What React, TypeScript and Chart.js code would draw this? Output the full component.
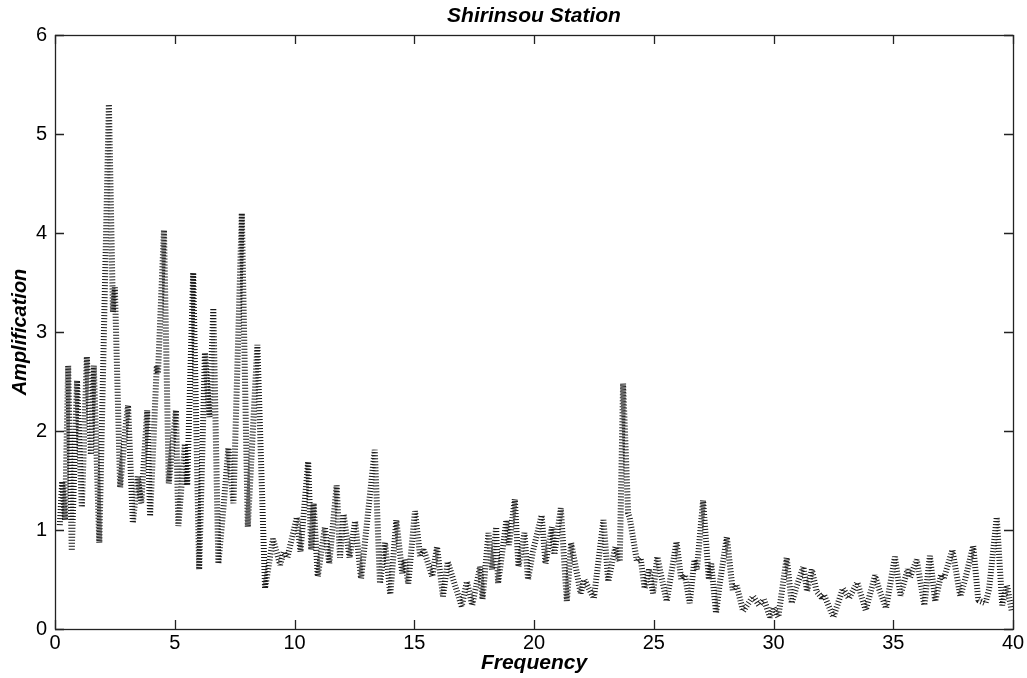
import React, { useEffect, useRef } from "react";
import { Chart, registerables } from "chart.js";

Chart.register(...registerables);

const chartTitle = "Shirinsou Station";
const xAxisLabel = "Frequency";
const yAxisLabel = "Amplification";

const frequency = [
  0.2, 0.3, 0.42, 0.55, 0.7, 0.92, 1.12, 1.33, 1.5, 1.62, 1.85, 2.25, 2.42, 2.5, 2.72, 2.95, 3.05, 3.25, 3.45, 3.6,
  3.85, 3.97, 4.25, 4.3, 4.55, 4.75, 5.05, 5.15, 5.42, 5.52, 5.77, 6.02, 6.26, 6.45, 6.61, 6.82, 7.05, 7.24, 7.45, 7.8,
  8.05, 8.45, 8.77, 9.1, 9.4, 9.55, 9.7, 10.1, 10.25, 10.57, 10.7, 10.8, 10.97, 11.27, 11.45, 11.76, 11.9, 12.05, 12.3, 12.53,
  12.78, 13.35, 13.57, 13.78, 14.0, 14.25, 14.5, 14.6, 14.75, 15.03, 15.25, 15.4, 15.75, 15.95, 16.2, 16.4, 16.6, 16.98, 17.2, 17.42,
  17.75, 17.85, 18.1, 18.25, 18.42, 18.5, 18.85, 18.95, 19.2, 19.35, 19.6, 19.75, 19.95, 20.32, 20.48, 20.75, 20.85, 21.12, 21.37, 21.55,
  21.95, 22.1, 22.5, 22.9, 23.1, 23.4, 23.58, 23.72, 23.93, 24.0, 24.3, 24.45, 24.62, 24.8, 24.97, 25.15, 25.3, 25.54, 25.95, 26.15,
  26.3, 26.5, 26.7, 26.8, 27.06, 27.3, 27.4, 27.6, 27.75, 28.05, 28.3, 28.45, 28.73, 29.15, 29.4, 29.6, 29.85, 30.0, 30.2, 30.55,
  30.76, 30.95, 31.25, 31.4, 31.6, 31.8, 32.0, 32.1, 32.5, 32.9, 33.15, 33.5, 33.85, 34.24, 34.4, 34.7, 35.07, 35.3, 35.6, 35.7,
  35.98, 36.3, 36.53, 36.75, 37.0, 37.1, 37.47, 37.8, 38.0, 38.34, 38.55, 38.85, 39.0, 39.32, 39.55, 39.75, 39.95,
];

const amplification = [
  1.05, 1.49, 1.1, 2.66, 0.79, 2.51, 1.23, 2.75, 1.76, 2.66, 0.87, 5.3, 3.2, 3.45, 1.43, 2.05, 2.26, 1.07, 1.54, 1.27,
  2.21, 1.14, 2.66, 2.58, 4.03, 1.47, 2.21, 1.04, 1.87, 1.45, 3.6, 0.6, 2.79, 2.14, 3.24, 0.66, 1.27, 1.83, 1.27, 4.2,
  1.03, 2.87, 0.41, 0.91, 0.65, 0.78, 0.72, 1.13, 0.78, 1.69, 0.8, 1.27, 0.53, 1.03, 0.66, 1.45, 0.72, 1.16, 0.72, 1.09,
  0.51, 1.81, 0.46, 0.87, 0.35, 1.1, 0.56, 0.7, 0.46, 1.19, 0.73, 0.8, 0.53, 0.83, 0.33, 0.68, 0.52, 0.23, 0.48, 0.24,
  0.63, 0.3, 0.97, 0.6, 1.03, 0.46, 1.1, 0.85, 1.31, 0.63, 0.97, 0.5, 0.78, 1.15, 0.66, 1.03, 0.75, 1.22, 0.28, 0.87,
  0.36, 0.5, 0.31, 1.1, 0.48, 0.83, 0.68, 2.48, 1.17, 1.12, 0.68, 0.72, 0.41, 0.6, 0.36, 0.73, 0.55, 0.28, 0.88, 0.5,
  0.55, 0.26, 0.7, 0.6, 1.3, 0.5, 0.66, 0.16, 0.45, 0.93, 0.39, 0.45, 0.18, 0.33, 0.24, 0.3, 0.12, 0.22, 0.12, 0.72,
  0.26, 0.42, 0.63, 0.38, 0.6, 0.38, 0.32, 0.35, 0.12, 0.41, 0.31, 0.47, 0.19, 0.54, 0.41, 0.21, 0.73, 0.34, 0.6, 0.52,
  0.7, 0.24, 0.74, 0.28, 0.55, 0.5, 0.8, 0.33, 0.5, 0.84, 0.29, 0.26, 0.4, 1.13, 0.24, 0.44, 0.18,
];

const xMin = 0;
const xMax = 40;
const xStep = 5;
const yMin = 0;
const yMax = 6;
const yStep = 1;

const FONT = "'Liberation Sans', Arial, Helvetica, sans-serif";

const boxAndInnerTicks = {
  id: "boxAndInnerTicks",
  afterDraw(chart: any) {
    const { ctx, chartArea } = chart;
    const { left, right, top, bottom } = chartArea;
    const xs = chart.scales.x;
    const ys = chart.scales.y;
    const tick = 9;
    ctx.save();
    ctx.strokeStyle = "#222";
    ctx.lineWidth = 1.3;
    ctx.strokeRect(left + 0.5, top + 0.5, right - left, bottom - top);
    ctx.beginPath();
    for (let v = xMin; v <= xMax; v += xStep) {
      const px = Math.round(xs.getPixelForValue(v)) + 0.5;
      ctx.moveTo(px, bottom);
      ctx.lineTo(px, bottom - tick);
      ctx.moveTo(px, top);
      ctx.lineTo(px, top + tick);
    }
    for (let v = yMin; v <= yMax; v += yStep) {
      const py = Math.round(ys.getPixelForValue(v)) + 0.5;
      ctx.moveTo(left, py);
      ctx.lineTo(left + tick, py);
      ctx.moveTo(right, py);
      ctx.lineTo(right - tick, py);
    }
    ctx.stroke();
    ctx.restore();
  },
};

export default function App() {
  const canvasRef = useRef<HTMLCanvasElement | null>(null);

  useEffect(() => {
    const canvas = canvasRef.current;
    if (!canvas) return;
    const points = frequency.map((f, i) => ({ x: f, y: amplification[i] }));
    const chart = new Chart(canvas, {
      type: "line",
      data: {
        datasets: [
          {
            data: points,
            borderColor: "#1a1a1a",
            borderWidth: 6,
            borderDash: [1, 2],
            borderCapStyle: "butt",
            borderJoinStyle: "bevel",
            pointRadius: 0,
            tension: 0,
            fill: false,
          },
        ],
      },
      options: {
        responsive: false,
        animation: false,
        layout: { padding: { left: 0, right: 14, top: 0, bottom: 0 } },
        plugins: {
          legend: { display: false },
          tooltip: { enabled: false },
          title: {
            display: true,
            text: chartTitle,
            fullSize: false,
            color: "#000",
            font: { family: FONT, size: 21, weight: "bold", style: "italic" },
            padding: { top: 4, bottom: 5.8 },
          },
        },
        scales: {
          x: {
            type: "linear",
            min: xMin,
            max: xMax,
            grid: { display: false, drawTicks: false },
            border: { display: false },
            ticks: {
              stepSize: xStep,
              color: "#000",
              padding: 2,
              maxRotation: 0,
              font: { family: FONT, size: 20 },
            },
            title: {
              display: true,
              text: xAxisLabel,
              color: "#000",
              font: { family: FONT, size: 21, weight: "bold", style: "italic" },
              padding: { top: 0, bottom: 2 },
            },
            afterFit(scale: any) {
              scale.height = 49;
            },
          },
          y: {
            type: "linear",
            min: yMin,
            max: yMax,
            grid: { display: false, drawTicks: false },
            border: { display: false },
            ticks: {
              stepSize: yStep,
              color: "#000",
              padding: 8,
              font: { family: FONT, size: 20 },
            },
            title: {
              display: true,
              text: yAxisLabel,
              color: "#000",
              font: { family: FONT, size: 20, weight: "bold", style: "italic" },
              padding: { top: 8, bottom: 0 },
            },
            afterFit(scale: any) {
              scale.width = 55;
            },
          },
        },
      },
      plugins: [boxAndInnerTicks],
    });
    return () => chart.destroy();
  }, []);

  return (
    <div style={{ position: "fixed", left: 0, top: 0, width: 1027, height: 678, background: "#fff" }}>
      <canvas ref={canvasRef} width={1027} height={678} style={{ display: "block" }} />
    </div>
  );
}
